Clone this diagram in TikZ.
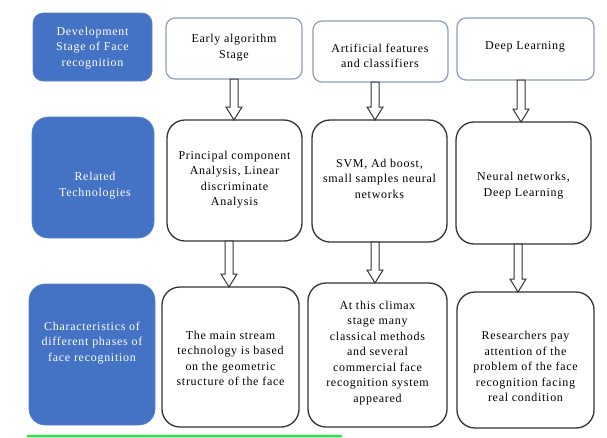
\documentclass[tikz,border=0pt]{standalone}
\usepackage{fontspec}
\setmainfont[LetterSpace=6]{Liberation Serif}
\usetikzlibrary{calc}
\definecolor{boxblue}{HTML}{4472C4}
\definecolor{blueedge}{HTML}{5A84CC}
\definecolor{paleedge}{HTML}{8C9DBD}
\definecolor{darkedge}{HTML}{333333}
\definecolor{rulegreen}{HTML}{00FF1E}
\tikzset{
  bluebox/.style={draw=blueedge, line width=0.6pt, fill=boxblue, rounded corners=14pt, inner sep=0pt, outer sep=0pt},
  palebox/.style={draw=paleedge, line width=1.2pt, fill=white, rounded corners=9pt, inner sep=0pt, outer sep=0pt},
  plainbox/.style={draw=darkedge, line width=1.3pt, fill=white, rounded corners=18pt, inner sep=0pt, outer sep=0pt},
  bluetext/.style={text=white, align=center, font=\fontsize{12}{15.5}\selectfont, inner sep=0pt},
  boxtext/.style={text=black, align=center, font=\fontsize{12}{15.5}\selectfont, inner sep=0pt},
  blockarr/.style={draw=darkedge, line width=1pt, fill=white, line join=miter},
}
\newcommand\hollowarrow[3]{%
  \draw[blockarr] let \p1=($(#1.south)+(#3,0)$), \p2=(#2.north) in
    (\x1-4,\y1) -- (\x1-4,\y2+13) -- (\x1-8,\y2+13) -- (\x1,\y2) --
    (\x1+8,\y2+13) -- (\x1+4,\y2+13) -- (\x1+4,\y1) -- cycle;}
\begin{document}
\begin{tikzpicture}[x=1pt,y=-1pt]
\useasboundingbox (0,0) rectangle (607,437);
% row 1
\node[bluebox, minimum width=119pt, minimum height=68pt, rounded corners=10pt] (b1) at (92.5,47) {};
\node[palebox, minimum width=136pt, minimum height=61pt] (r1c1) at (234,48.5) {};
\node[palebox, minimum width=135pt, minimum height=61pt] (r1c2) at (380.5,51.5) {};
\node[palebox, minimum width=137pt, minimum height=62pt] (r1c3) at (525.5,49) {};
% row 2
\node[bluebox, minimum width=122pt, minimum height=121pt, rounded corners=16pt] (b2) at (93,177.5) {};
\node[plainbox, minimum width=135pt, minimum height=121pt] (r2c1) at (234.5,180.5) {};
\node[plainbox, minimum width=135pt, minimum height=122pt] (r2c2) at (379.5,181) {};
\node[plainbox, minimum width=135pt, minimum height=122pt] (r2c3) at (523.5,183) {};
% row 3
\node[bluebox, minimum width=126pt, minimum height=141pt, rounded corners=16pt] (b3) at (92,354.5) {};
\node[plainbox, minimum width=137pt, minimum height=140pt] (r3c1) at (230.5,357) {};
\node[plainbox, minimum width=139pt, minimum height=144pt] (r3c2) at (377.5,355) {};
\node[plainbox, minimum width=137pt, minimum height=136pt] (r3c3) at (525.5,360) {};
% texts
\node[bluetext] (tb1) at (92.5,48) {Development\\Stage of Face\\recognition};
\node[boxtext] (t11) at (234,47.5) {Early algorithm\\Stage};
\node[boxtext] (t12) at (380,56) {Artificial features\\and classifiers};
\node[boxtext] (t13) at (525,47) {Deep Learning};
\node[bluetext] (tb2) at (95,185.5) {Related\\Technologies};
\node[boxtext] (t21) at (234.5,179.5) {Principal component\\Analysis, Linear\\discriminate\\Analysis};
\node[boxtext] (t22) at (379.5,178.5) {SVM, Ad boost,\\small samples neural\\networks};
\node[boxtext] (t23) at (523.5,185.5) {Neural networks,\\Deep Learning};
\node[bluetext] (tb3) at (92,343) {Characteristics of\\different phases of\\face recognition};
\node[boxtext] (t31) at (230.5,358.5) {The main stream\\technology is based\\on the geometric\\structure of the face};
\node[boxtext] (t32) at (377.5,353) {At this climax\\stage many\\classical methods\\and several\\commercial face\\recognition system\\appeared};
\node[boxtext] (t33) at (525.5,366.5) {Researchers pay\\attention of the\\problem of the face\\recognition facing\\real condition};
% arrows
\hollowarrow{r1c1}{r2c1}{0}
\hollowarrow{r1c2}{r2c2}{-5.5}
\hollowarrow{r1c3}{r2c3}{-4.5}
\hollowarrow{r2c1}{r3c1}{-5.5}
\hollowarrow{r2c2}{r3c2}{-4.5}
\hollowarrow{r2c3}{r3c3}{-5.5}
% green rule
\coordinate (g1) at (27,435.5);
\coordinate (g2) at (342,435.5);
\draw[rulegreen, line width=2pt] (g1) -- (g2);
\end{tikzpicture}
\end{document}
